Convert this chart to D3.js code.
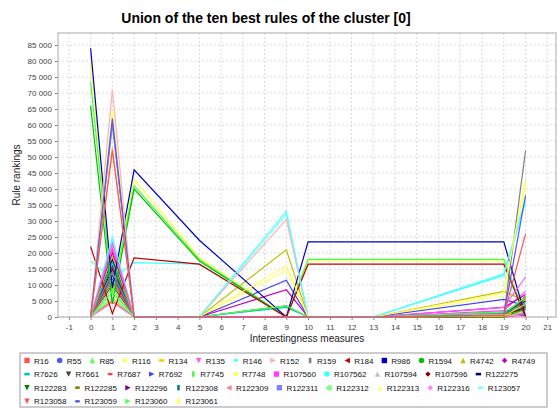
<!DOCTYPE html>
<html>
<head>
<meta charset="utf-8">
<script src="https://cdn.jsdelivr.net/npm/d3@7"></script>
<style>
  body { margin: 0; background: #fff; }
  svg text { font-family: "Liberation Sans", Arial, sans-serif; }
</style>
</head>
<body>
<svg id="chart" width="558" height="408"></svg>
<script>
// measures where the rules have a value
const measures = [0, 1, 2, 5, 9, 10, 13, 19, 20]

const ruleNames = ['R16', 'R55', 'R85', 'R116', 'R134', 'R135', 'R146', 'R152', 'R159', 'R184',
  'R986', 'R1594', 'R4742', 'R4749', 'R7626', 'R7661', 'R7687', 'R7692', 'R7745', 'R7748',
  'R107560', 'R107562', 'R107594', 'R107596', 'R122275', 'R122283', 'R122285', 'R122296', 'R122308', 'R122309',
  'R122311', 'R122312', 'R122313', 'R122316', 'R123057', 'R123058', 'R123059', 'R123060', 'R123061']

// rule rankings, one row per rule, one value per measure
const rankings = [
  [0, 52000, 0, 0, 0, 0, 0, 500, 26000],
  [0, 62000, 0, 0, 0, 0, 0, 600, 38000],
  [0, 8000, 0, 0, 3500, 0, 0, 1500, 6000],
  [0, 64500, 0, 0, 16000, 0, 0, 7500, 43000],
  [0, 53000, 0, 0, 0, 0, 0, 300, 4000],
  [0, 23000, 0, 0, 0, 0, 0, 3000, 12500],
  [0, 25000, 0, 0, 33000, 0, 0, 13500, 37000],
  [0, 71000, 0, 0, 30500, 0, 0, 800, 0],
  [0, 14000, 0, 0, 0, 0, 0, 500, 52000],
  [22000, 1000, 18500, 16500, 0, 16500, 16500, 16500, 0],
  [84000, 9000, 46000, 24000, 0, 23500, 23500, 23500, 0],
  [66000, 4000, 40000, 17500, 0, 0, 0, 0, 2500],
  [0, 19000, 0, 0, 21000, 0, 0, 8000, 5000],
  [0, 20000, 0, 0, 8500, 0, 0, 3000, 7000],
  [0, 17000, 0, 0, 3000, 0, 0, 1000, 4500],
  [0, 16000, 0, 0, 0, 0, 0, 0, 6000],
  [0, 11000, 0, 0, 0, 0, 0, 400, 5500],
  [0, 13000, 0, 0, 11500, 0, 0, 5500, 3500],
  [73500, 7000, 41000, 18000, 0, 18000, 18000, 18000, 0],
  [80000, 6500, 43000, 18500, 0, 17500, 17500, 17500, 0],
  [0, 21000, 0, 0, 0, 0, 0, 2000, 8000],
  [17500, 12000, 17000, 16500, 0, 0, 0, 13000, 36000],
  [0, 9000, 0, 0, 0, 0, 0, 300, 2000],
  [0, 15000, 0, 0, 0, 0, 0, 600, 3000],
  [0, 18000, 0, 0, 0, 0, 0, 800, 5000],
  [0, 10000, 0, 0, 3500, 0, 0, 1500, 4000],
  [0, 12000, 0, 0, 0, 0, 0, 500, 6500],
  [0, 18000, 0, 0, 0, 0, 0, 1000, 2500],
  [0, 14000, 0, 0, 0, 0, 0, 700, 3500],
  [0, 22000, 0, 0, 0, 0, 0, 0, 1500],
  [0, 60000, 0, 0, 0, 0, 0, 500, 1000],
  [0, 7500, 0, 0, 0, 0, 0, 1200, 3000],
  [0, 8000, 0, 0, 14500, 0, 0, 6500, 41000],
  [0, 4500, 0, 0, 0, 0, 0, 0, 0],
  [0, 24000, 0, 0, 32000, 0, 0, 13300, 0],
  [0, 5000, 0, 0, 0, 0, 0, 0, 1000],
  [0, 61000, 0, 0, 0, 0, 0, 0, 500],
  [0, 6000, 0, 0, 0, 0, 0, 1000, 2000],
  [0, 5500, 0, 0, 0, 0, 0, 0, 0]
]

const xTicks = d3.range(-1, 22)
const yTicks = d3.range(0, 85001, 5000)

const paintSequence = ['#ff5555', '#5555ff', '#55ff55', '#ffff55', '#ffc800', '#ff55ff', '#55ffff', '#ffafaf', '#808080',
  '#c00000', '#0000c0', '#00c000', '#c0c000', '#c000c0', '#00c0c0', '#404040',
  '#ff4040', '#4040ff', '#40ff40', '#ffff40', '#ff40ff', '#40ffff', '#c0c0c0',
  '#800000', '#000080', '#008000', '#808000', '#800080', '#008080',
  '#ff8080', '#8080ff', '#80ff80', '#ffff80', '#ff80ff', '#80ffff']

const svg = d3.select('#chart')

const plotLeft = 58, plotRight = 556, plotTop = 33, plotBottom = 317

const x = d3.scaleLinear().domain([-1.5, 21.4]).range([plotLeft, plotRight])
const y = d3.scaleLinear().domain([0, 88750]).range([plotBottom, plotTop])

const color = i => paintSequence[i % paintSequence.length]
const fmt = v => d3.format(',')(v).replace(/,/g, ' ')

// title
svg.append('text')
  .attr('x', 266)
  .attr('y', 23)
  .attr('text-anchor', 'middle')
  .attr('font-size', '14px')
  .attr('font-weight', 'bold')
  .text('Union of the ten best rules of the cluster [0]')

// grid
const grid = svg.append('g')
grid.selectAll('.vgrid')
  .data(xTicks)
  .enter()
  .append('line')
  .attr('x1', d => x(d)).attr('x2', d => x(d))
  .attr('y1', plotTop).attr('y2', plotBottom)
  .attr('stroke', '#dadada')
  .attr('stroke-dasharray', '2,2')
grid.selectAll('.hgrid')
  .data(yTicks)
  .enter()
  .append('line')
  .attr('x1', plotLeft).attr('x2', plotRight)
  .attr('y1', d => y(d)).attr('y2', d => y(d))
  .attr('stroke', '#dadada')
  .attr('stroke-dasharray', '2,2')

// axes
const yAxis = d3.axisLeft(y).tickValues(yTicks).tickFormat(fmt).tickSize(3).tickPadding(3)
const yG = svg.append('g').attr('transform', `translate(${plotLeft},0)`).call(yAxis)
const xAxis = d3.axisBottom(x).tickValues(xTicks).tickFormat(d => String(d)).tickSize(3).tickPadding(4)
const xG = svg.append('g').attr('transform', `translate(0,${plotBottom})`).call(xAxis)

;[xG, yG].forEach(g => {
  g.select('.domain').remove()
  g.selectAll('line').attr('stroke', '#888')
  g.selectAll('text')
    .attr('font-size', '8px')
    .attr('fill', '#444')
    .style('font-family', '"Liberation Sans", Arial, sans-serif')
})

// plot border
svg.append('rect')
  .attr('x', plotLeft).attr('y', plotTop)
  .attr('width', plotRight - plotLeft).attr('height', plotBottom - plotTop)
  .attr('fill', 'none')
  .attr('stroke', '#aaa')

// axis labels
svg.append('text')
  .attr('x', (plotLeft + plotRight) / 2)
  .attr('y', 342)
  .attr('text-anchor', 'middle')
  .attr('font-size', '10px')
  .attr('fill', '#222')
  .text('Interestingness measures')

svg.append('text')
  .attr('transform', `translate(20,${(plotTop + plotBottom) / 2}) rotate(-90)`)
  .attr('text-anchor', 'middle')
  .attr('font-size', '10px')
  .attr('fill', '#222')
  .text('Rule rankings')

// series lines, first series on top
const line = d3.line()
  .x((d, i) => x(measures[i]))
  .y(d => y(d))

const seriesIdx = d3.range(ruleNames.length).reverse()
svg.append('g')
  .selectAll('path')
  .data(seriesIdx)
  .enter()
  .append('path')
  .attr('d', i => line(rankings[i]))
  .attr('fill', 'none')
  .attr('stroke', i => color(i))
  .attr('stroke-width', 1.2)
  .attr('stroke-linejoin', 'miter')

// legend shapes
function shapePath(i) {
  const s = 2.7
  switch (i % 10) {
    case 0: return `M${-s},${-s}h${2 * s}v${2 * s}h${-2 * s}Z`
    case 1: return d3.symbol(d3.symbolCircle, 24)()
    case 2: return `M0,${-s}L${s},${s}L${-s},${s}Z`
    case 3: return `M0,${-s}L${s},0L0,${s}L${-s},0Z`
    case 4: return `M${-s},-1.3h${2 * s}v2.6h${-2 * s}Z`
    case 5: return `M${-s},${-s}L${s},${-s}L0,${s}Z`
    case 6: return `M${-s},0A${s},1.4 0 1,0 ${s},0A${s},1.4 0 1,0 ${-s},0Z`
    case 7: return `M${-s},${-s}L${s},0L${-s},${s}Z`
    case 8: return `M-1.3,${-s}h2.6v${2 * s}h-2.6Z`
    default: return `M${s},${-s}L${-s},0L${s},${s}Z`
  }
}

// legend box
const legX = 20, legY = 353, legW = 527, legH = 54
svg.append('rect')
  .attr('x', legX).attr('y', legY)
  .attr('width', legW).attr('height', legH)
  .attr('fill', '#fff')
  .attr('stroke', '#999')

const legendG = svg.append('g')
let cx = legX + 3, row = 0
ruleNames.forEach((name, i) => {
  const item = legendG.append('g')
  const t = item.append('text')
    .attr('font-size', '8px')
    .attr('fill', '#111')
    .text(name)
  const w = t.node().getComputedTextLength()
  if (cx + 11 + w > legX + legW - 2) {
    row += 1
    cx = legX + 3
  }
  const cy = legY + 7.5 + row * 13.6
  item.append('path')
    .attr('d', shapePath(i))
    .attr('transform', `translate(${cx + 4},${cy})`)
    .attr('fill', color(i))
  t.attr('x', cx + 11).attr('y', cy + 3)
  cx = cx + 11 + w + 7
})
</script>
</body>
</html>
